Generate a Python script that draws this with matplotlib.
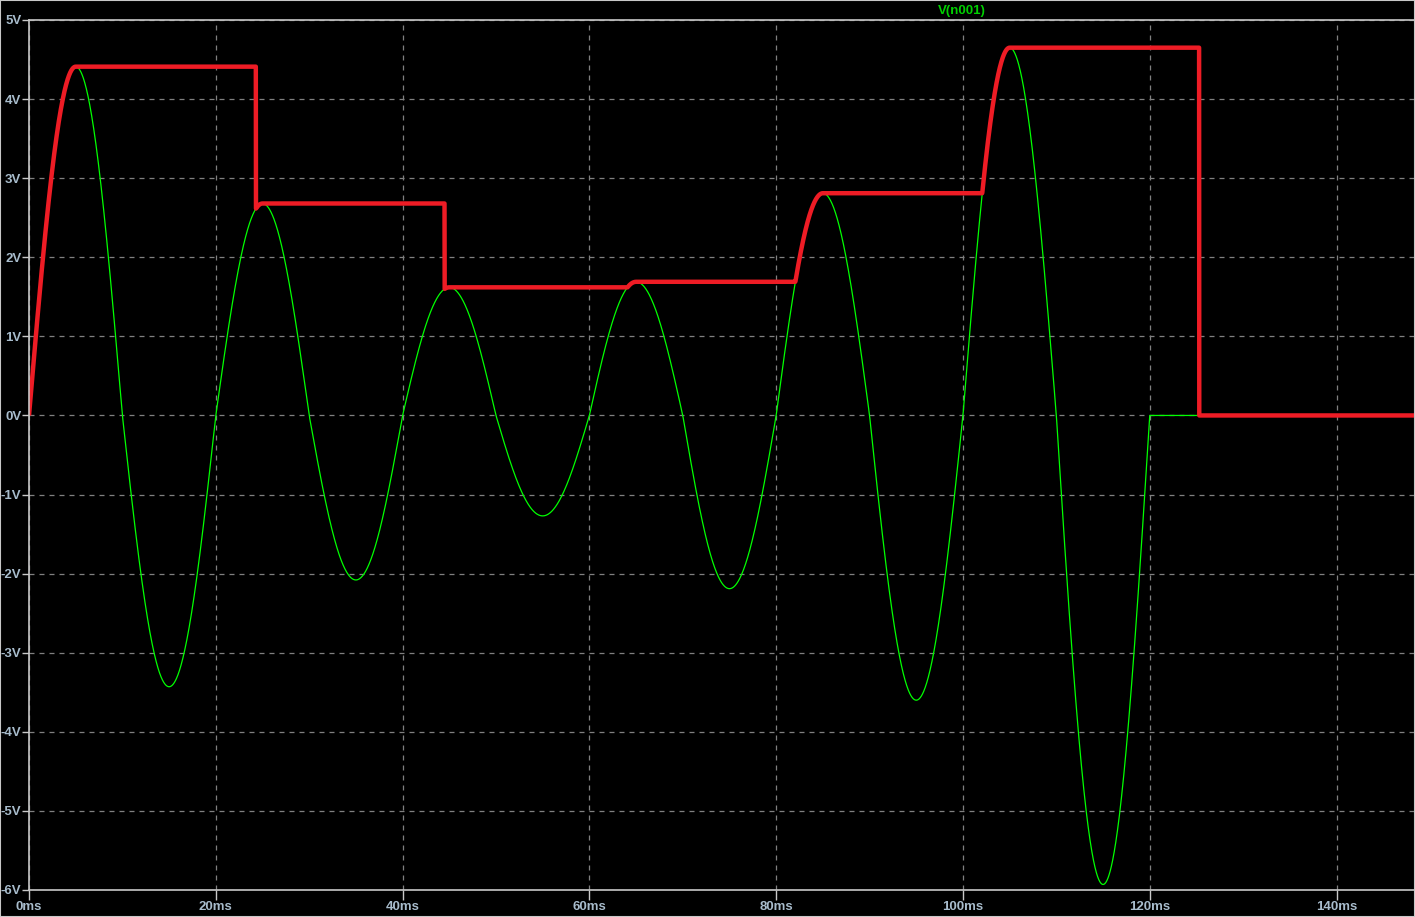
import numpy as np
import matplotlib.pyplot as plt
from matplotlib.patches import Rectangle

# peak value of each 10 ms half cycle of V(n001)
half_peaks = [4.41, -3.43, 2.68, -2.08, 1.62, -1.27, 1.69, -2.19, 2.81, -3.60, 4.65, -5.93]
half_period = 10.0   # ms
t_end = 148.4        # ms, right edge of the plot

# instants where the peak detector (red trace) is reset, ms
reset_times = [24.3, 44.5, 125.3]

x_ticks = [0, 20, 40, 60, 80, 100, 120, 140]
y_ticks = [-6, -5, -4, -3, -2, -1, 0, 1, 2, 3, 4, 5]

# green trace: half sines with the read peaks, 0 V after the burst
t = np.linspace(0, t_end, 8000)
v = np.zeros_like(t)
for i, pk in enumerate(half_peaks):
    m = (t >= i * half_period) & (t < (i + 1) * half_period)
    v[m] = pk * np.sin(np.pi * (t[m] - i * half_period) / half_period)

# red trace: peak hold of the green one, restarted at each reset
hold = np.zeros_like(t)
cur = 0.0
ri = 0
for k in range(len(t)):
    if ri < len(reset_times) and t[k] >= reset_times[ri]:
        cur = v[k]
        ri += 1
    cur = max(cur, v[k])
    hold[k] = cur

W, H = 1415, 917
fig = plt.figure(figsize=(W / 100, H / 100), dpi=100, facecolor='black')
ax = fig.add_axes([29 / W, 27 / H, (W - 29) / W, 870 / H])
ax.set_facecolor('black')

ax.plot(t, v, color='#00FF00', lw=0.9)
ax.plot(t, hold, color='#EE1C25', lw=3.2, solid_capstyle='butt')

ax.set_xlim(0, t_end)
ax.set_ylim(-6, 5)
ax.set_xticks(x_ticks)
ax.set_xticklabels([f'{x}ms' for x in x_ticks])
ax.set_yticks(y_ticks)
ax.set_yticklabels([f'{y}V' for y in y_ticks])

ax.grid(True, color='#808080', lw=0.9, linestyle=(0, (4, 4)))
for s in ['left', 'top', 'bottom']:
    ax.spines[s].set_color('#C8C8C8')
    ax.spines[s].set_linewidth(1.2)
ax.spines['right'].set_visible(False)

ax.tick_params(colors='#C8C8C8', width=1.0, labelcolor='#A8BCCC', labelsize=9.5)
ax.tick_params(axis='x', length=7, pad=1)
ax.tick_params(axis='y', length=5, pad=0.5)
for lab in ax.get_xticklabels() + ax.get_yticklabels():
    lab.set_fontfamily('Liberation Sans')
    lab.set_fontweight('bold')

fig.text(962 / W, 1 - 11 / H, 'V(n001)', color='#00D000', fontsize=9.5,
         fontweight='bold', fontfamily='Liberation Sans', ha='center', va='center')

fig.patches.append(Rectangle((0, 0), 1, 1, transform=fig.transFigure, fill=False,
                             edgecolor='#C8C8C8', lw=1.5))

fig.savefig('out.png', dpi=100, facecolor='black')
